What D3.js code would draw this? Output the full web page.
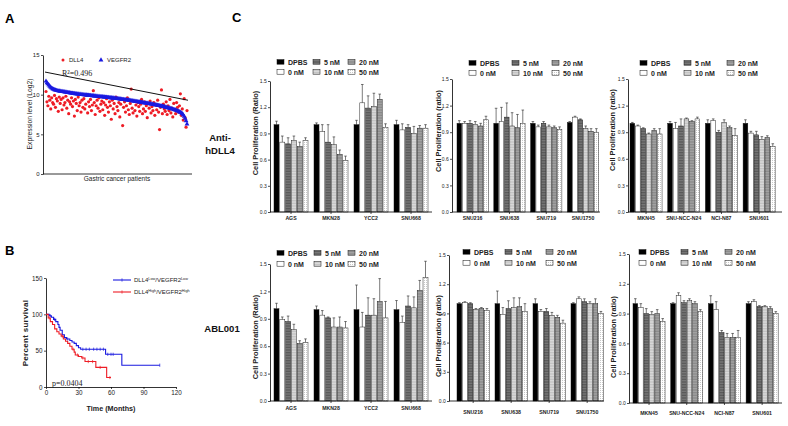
<!DOCTYPE html>
<html><head><meta charset="utf-8">
<script src="https://cdn.jsdelivr.net/npm/d3@7"></script>
<style>body{margin:0;background:#fff}svg{display:block;font-family:"Liberation Sans",Arial,sans-serif}</style>
</head><body><svg id="c" width="788" height="426"></svg>
<script>
// ---------------- DATA ----------------
// Panel A: expression level (Log2) per gastric cancer patient (sorted by VEGFR2)
const dll4Expr = [10.4,9.1,8.6,9.8,9.3,8.2,9.6,9.0,8.8,9.9,
8.4,9.5,9.2,7.9,9.7,8.9,9.4,8.1,9.6,8.7,
9.0,9.8,8.3,9.3,7.6,9.1,8.8,9.6,8.5,9.2,
7.3,9.4,8.9,8.0,9.7,8.6,9.0,7.8,9.3,8.4,
9.5,8.2,8.8,9.9,7.7,9.1,8.5,9.4,8.0,8.7,
10.5,9.0,7.5,8.6,9.3,8.3,9.6,7.9,8.8,9.2,
8.1,9.0,7.4,8.7,9.5,8.4,7.8,9.1,8.6,6.9,
9.3,8.2,8.9,7.6,9.7,8.5,8.0,9.0,7.2,8.8,
9.4,6.1,8.4,9.1,7.8,8.6,9.6,8.1,7.5,8.9,
10.7,8.3,7.7,9.2,8.0,8.7,7.3,9.0,8.5,7.9,
8.8,9.4,7.6,8.2,9.1,7.9,8.6,7.1,8.9,8.3,
9.2,7.7,8.5,8.0,9.0,7.4,8.7,8.1,9.3,7.8,
5.6,8.4,10.6,7.6,8.8,8.2,7.9,9.1,7.5,8.6,
8.0,9.4,7.7,8.3,7.2,8.9,8.1,7.6,9.0,8.4,
7.8,8.6,10.1,7.4,8.2,6.8,9.5,7.1,5.9,8.0];
const vegfr2Expr = [11.7,11.5,11.35,11.2,11.05,10.92,10.82,10.74,10.68,10.62,
10.57,10.53,10.5,10.47,10.45,10.43,10.41,10.39,10.37,10.35,
10.33,10.31,10.29,10.27,10.25,10.23,10.21,10.19,10.17,10.15,
10.13,10.11,10.1,10.08,10.07,10.05,10.04,10.02,10.01,10.0,
9.98,9.97,9.95,9.94,9.93,9.91,9.9,9.89,9.87,9.86,
9.85,9.83,9.82,9.81,9.8,9.78,9.77,9.76,9.74,9.73,
9.72,9.7,9.69,9.68,9.66,9.65,9.64,9.62,9.61,9.6,
9.58,9.57,9.55,9.54,9.52,9.5,9.49,9.47,9.45,9.44,
9.42,9.4,9.39,9.37,9.35,9.33,9.32,9.3,9.28,9.26,
9.24,9.22,9.2,9.18,9.16,9.14,9.12,9.1,9.08,9.06,
9.04,9.02,9.0,8.98,8.96,8.94,8.92,8.9,8.88,8.86,
8.84,8.82,8.8,8.78,8.76,8.73,8.71,8.68,8.66,8.63,
8.61,8.58,8.56,8.53,8.5,8.47,8.44,8.41,8.38,8.35,
8.32,8.28,8.25,8.21,8.17,8.13,8.09,8.05,8.0,7.95,
7.9,7.84,7.78,7.7,7.6,7.45,7.25,7.0,6.7,6.3];
const trendLine = [12.85, 9.3];   // fitted line value at first and last patient
const aYTicks = [0,5,10,15];

// Panel B: Kaplan-Meier
const blueT = [0,3,5,7,9,11,12,13,15,17,19,22,24,26,28,30,32,55,70,105];
const blueS = [100,98,96,93,90,86,82,78,72,68,66,64,62,60,57,54,52,45,30,30];
const blueCensor = [4,8,20,34,37,40,44,47,50,53,57,60,62,105];
const redT = [0,2,4,6,8,10,12,14,16,18,20,22,24,26,27,30,33,36,46,56,60];
const redS = [100,95,90,86,80,76,73,70,66,63,60,56,52,48,44,42,40,35,27,13,13];
const redCensor = [3,15,25,29,34,39,43,50,59];
const bXTicks = [0,30,60,90,120];
const bYTicks = [0,50,100,150];

// Panel C
const conc = ["DPBS","0 nM","5 nM","10 nM","20 nM","50 nM"];
const cYTicks = [0,0.3,0.6,0.9,1.2,1.5];
const t1Groups = ["AGS","MKN28","YCC2","SNU668"];
const t1Vals = [[1.00,0.80,0.78,0.82,0.75,0.82],[1.00,0.92,0.80,0.77,0.66,0.59],[1.00,1.25,1.19,1.21,1.29,0.97],[1.00,0.94,0.97,0.90,0.96,0.96]];
const t1Errs = [[0.04,0.07,0.07,0.05,0.05,0.03],[0.02,0.08,0.20,0.09,0.05,0.05],[0.05,0.21,0.14,0.15,0.06,0.04],[0.05,0.07,0.03,0.08,0.03,0.04]];
const t2Groups = ["SNU216","SNU638","SNU719","SNU1750"];
const t2Vals = [[1.00,1.00,1.00,0.99,0.97,1.04],[1.00,1.02,1.07,0.97,0.95,1.00],[1.00,0.96,1.00,0.96,0.95,0.93],[1.01,1.07,1.04,0.94,0.91,0.90]];
const t2Errs = [[0.03,0.02,0.03,0.03,0.03,0.04],[0.17,0.16,0.16,0.15,0.15,0.15],[0.02,0.02,0.02,0.02,0.02,0.03],[0.01,0.01,0.01,0.03,0.03,0.04]];
const t3Groups = ["MKN45","SNU-NCC-N24","NCI-N87","SNU601"];
const t3Vals = [[1.00,0.97,0.94,0.88,0.92,0.88],[1.00,0.94,0.97,1.05,1.02,1.05],[1.00,1.03,0.90,1.01,0.95,0.86],[1.00,0.89,0.87,0.82,0.84,0.74]];
const t3Errs = [[0.01,0.01,0.01,0.01,0.02,0.06],[0.02,0.07,0.08,0.01,0.01,0.02],[0.04,0.02,0.02,0.03,0.02,0.08],[0.04,0.02,0.04,0.03,0.02,0.03]];
const b1Vals = [[1.01,0.89,0.87,0.78,0.63,0.64],[1.00,0.94,0.91,0.81,0.81,0.80],[1.00,0.81,0.94,0.94,1.09,0.91],[1.00,0.86,1.04,1.02,1.21,1.35]];
const b1Errs = [[0.06,0.03,0.06,0.06,0.03,0.04],[0.04,0.05,0.01,0.10,0.11,0.07],[0.27,0.16,0.19,0.18,0.25,0.18],[0.10,0.07,0.11,0.12,0.11,0.18]];
const b2Vals = [[1.00,1.01,1.00,0.94,0.95,0.93],[1.00,0.89,0.95,0.96,0.97,0.92],[1.00,0.92,0.92,0.88,0.86,0.80],[1.00,1.05,1.02,1.00,1.00,0.90]];
const b2Errs = [[0.01,0.01,0.01,0.01,0.01,0.02],[0.13,0.07,0.08,0.10,0.09,0.08],[0.05,0.02,0.03,0.03,0.02,0.03],[0.01,0.02,0.03,0.02,0.05,0.02]];
const b3Vals = [[1.00,0.96,0.90,0.89,0.90,0.82],[1.00,1.08,1.01,1.03,1.00,0.92],[1.00,0.94,0.71,0.66,0.66,0.66],[1.00,1.02,0.97,0.97,0.95,0.90]];
const b3Errs = [[0.05,0.04,0.05,0.03,0.04,0.03],[0.01,0.03,0.02,0.02,0.02,0.02],[0.08,0.08,0.02,0.04,0.04,0.07],[0.02,0.02,0.01,0.01,0.02,0.02]];

// ---------------- DRAW ----------------
const svg = d3.select("#c");
const defs = svg.append("defs");
function stripe(id, base, line, pitch){
  const p = defs.append("pattern").attr("id",id).attr("patternUnits","userSpaceOnUse").attr("width",4).attr("height",pitch);
  p.append("rect").attr("width",4).attr("height",pitch).attr("fill",base);
  p.append("rect").attr("width",4).attr("height",0.6).attr("fill",line);
}
stripe("p5","#7a7a7a","#4a4a4a",1.6);
stripe("p10","#dcdcdc","#b8b8b8",1.6);
stripe("p20","#a6a6a6","#7c7c7c",1.6);
{
  const p = defs.append("pattern").attr("id","p50").attr("patternUnits","userSpaceOnUse").attr("width",2).attr("height",2);
  p.append("rect").attr("width",2).attr("height",2).attr("fill","#fff");
  p.append("rect").attr("width",0.8).attr("height",0.8).attr("fill","#aaa");
}
const fills = ["#000","#fff","url(#p5)","url(#p10)","url(#p20)","url(#p50)"];

function letter(t,x,y){ svg.append("text").attr("x",x).attr("y",y).attr("font-size",13).attr("font-weight","bold").text(t); }
letter("A",5,23); letter("B",5,255); letter("C",232,22);

function styleAxis(g, fs){
  g.selectAll("path.domain").attr("stroke","#000").attr("stroke-width",0.8);
  g.selectAll(".tick line").attr("stroke","#000").attr("stroke-width",0.7);
  g.selectAll(".tick text").attr("font-size",fs).attr("fill","#222").attr("font-family","Liberation Sans, Arial");
}

// ----- Panel A -----
{
  const xA = d3.scaleLinear().domain([0, dll4Expr.length-1]).range([46,187]);
  const yA = d3.scaleLinear().domain([0,15]).range([174,55]);
  const gy = svg.append("g").attr("transform","translate(43,0)")
    .call(d3.axisLeft(yA).tickValues(aYTicks).tickSize(2).tickPadding(1.5).tickSizeOuter(0));
  styleAxis(gy,6);
  svg.append("line").attr("x1",43).attr("x2",192).attr("y1",yA(0)).attr("y2",yA(0)).attr("stroke","#000").attr("stroke-width",0.8);
  svg.append("g").selectAll("circle").data(dll4Expr).join("circle")
    .attr("cx",(d,i)=>xA(i)).attr("cy",d=>yA(d)).attr("r",1.6).attr("fill","#ee1c25");
  const tri = d3.symbol().type(d3.symbolTriangle).size(10);
  svg.append("g").selectAll("path").data(vegfr2Expr).join("path")
    .attr("transform",(d,i)=>`translate(${xA(i)},${yA(d)})`).attr("d",tri).attr("fill","#1a1ae0");
  svg.append("line").attr("x1",xA(0)-1).attr("x2",xA(dll4Expr.length-1)+1)
    .attr("y1",yA(trendLine[0])).attr("y2",yA(trendLine[1])).attr("stroke","#111").attr("stroke-width",1);
  svg.append("circle").attr("cx",63).attr("cy",60).attr("r",1.5).attr("fill","#ee1c25");
  svg.append("text").attr("x",69).attr("y",62.3).attr("font-size",6).attr("fill","#222").text("DLL4");
  svg.append("path").attr("transform","translate(101,60)").attr("d",tri).attr("fill","#1a1ae0");
  svg.append("text").attr("x",107).attr("y",62.3).attr("font-size",6).attr("fill","#222").text("VEGFR2");
  svg.append("text").attr("x",62).attr("y",76).attr("font-size",8).attr("font-family","Liberation Serif, Times New Roman, serif").attr("fill","#222").text("R²=0.496");
  svg.append("text").attr("transform","translate(32,114) rotate(-90)").attr("text-anchor","middle").attr("font-size",6.8).attr("fill","#222").text("Expression level (Log2)");
  svg.append("text").attr("x",117).attr("y",181).attr("text-anchor","middle").attr("font-size",6.5).attr("fill","#222").text("Gastric cancer patients");
}

// ----- Panel B -----
{
  const xB = d3.scaleLinear().domain([0,120]).range([46,176]);
  const yB = d3.scaleLinear().domain([0,150]).range([387,278]);
  const gy = svg.append("g").attr("transform","translate(46,0)")
    .call(d3.axisLeft(yB).tickValues(bYTicks).tickSize(2).tickPadding(1.5).tickSizeOuter(0));
  styleAxis(gy,6.3);
  const gx = svg.append("g").attr("transform","translate(0,387)")
    .call(d3.axisBottom(xB).tickValues(bXTicks).tickSize(2).tickPadding(1.5).tickSizeOuter(0));
  styleAxis(gx,6.3);
  const line = d3.line().curve(d3.curveStepAfter).x(d=>xB(d[0])).y(d=>yB(d[1]));
  const stepAt = (T,S,t)=>{ let s=S[0]; for(let i=0;i<T.length;i++){ if(T[i]<=t) s=S[i]; } return s; };
  function km(T,S,C,col){
    svg.append("path").datum(T.map((t,i)=>[t,S[i]])).attr("d",line).attr("fill","none").attr("stroke",col).attr("stroke-width",1.1);
    svg.append("g").selectAll("line").data(C).join("line")
      .attr("x1",d=>xB(d)).attr("x2",d=>xB(d))
      .attr("y1",d=>yB(stepAt(T,S,d))-1.6).attr("y2",d=>yB(stepAt(T,S,d))+1.6)
      .attr("stroke",col).attr("stroke-width",0.7);
  }
  km(blueT,blueS,blueCensor,"#1a1ae0");
  km(redT,redS,redCensor,"#ee1c25");
  svg.append("text").attr("transform","translate(28,333) rotate(-90)").attr("text-anchor","middle").attr("font-size",8).attr("font-weight","bold").attr("letter-spacing",0.3).attr("fill","#222").text("Percent survival");
  svg.append("text").attr("x",111).attr("y",411).attr("text-anchor","middle").attr("font-size",7.2).attr("font-weight","bold").attr("fill","#222").text("Time (Months)");
  svg.append("text").attr("x",52).attr("y",386).attr("font-size",8).attr("font-family","Liberation Serif, Times New Roman, serif").attr("fill","#222").text("p=0.0404");
  function leg(y,col,sup){
    svg.append("line").attr("x1",113).attr("x2",131).attr("y1",y).attr("y2",y).attr("stroke",col).attr("stroke-width",1.1);
    svg.append("line").attr("x1",122).attr("x2",122).attr("y1",y-1.6).attr("y2",y+1.6).attr("stroke",col).attr("stroke-width",0.7);
    const t = svg.append("text").attr("x",134).attr("y",y+2.3).attr("font-size",6).attr("fill","#222");
    t.append("tspan").text("DLL4");
    t.append("tspan").attr("dy",-2.2).attr("font-size",3.8).text(sup);
    t.append("tspan").attr("dy",2.2).text("/VEGFR2");
    t.append("tspan").attr("dy",-2.2).attr("font-size",3.8).text(sup);
  }
  leg(280,"#1a1ae0","Low");
  leg(292,"#ee1c25","High");
}

// ----- Panel C -----
function rowLabel(lines,x,y){
  lines.forEach((l,i)=>svg.append("text").attr("x",x).attr("y",y+i*12.5).attr("text-anchor","middle")
    .attr("font-size",9.5).attr("font-weight","bold").attr("fill","#111").text(l));
}
rowLabel(["Anti-","hDLL4"],220,141);
rowLabel(["ABL001"],222,332);

function drawBars(cfg){
  const g = svg.append("g");
  const y = d3.scaleLinear().domain([0,1.5]).range([cfg.y0,cfg.y15]);
  const xg = d3.scaleBand().domain(cfg.groups).range([cfg.bs, cfg.bs+cfg.step*(cfg.groups.length-0.15)]).paddingInner(0.15).paddingOuter(0);
  const xs = d3.scaleBand().domain(conc).range([0,xg.bandwidth()]).paddingInner(0.14);
  const recs = [];
  cfg.groups.forEach((grp,i)=>conc.forEach((c,j)=>recs.push({grp,c,j,v:cfg.vals[i][j],e:cfg.errs[i][j]})));
  const cx = d=>xg(d.grp)+xs(d.c)+xs.bandwidth()/2;
  g.append("g").selectAll("line").data(recs).join("line")
    .attr("x1",cx).attr("x2",cx).attr("y1",d=>y(d.v)).attr("y2",d=>y(d.v+d.e)).attr("stroke","#222").attr("stroke-width",0.6);
  g.append("g").selectAll("line").data(recs).join("line")
    .attr("x1",d=>cx(d)-1.3).attr("x2",d=>cx(d)+1.3).attr("y1",d=>y(d.v+d.e)).attr("y2",d=>y(d.v+d.e)).attr("stroke","#222").attr("stroke-width",0.6);
  g.append("g").selectAll("rect").data(recs).join("rect")
    .attr("x",d=>xg(d.grp)+xs(d.c)).attr("y",d=>y(d.v)).attr("width",xs.bandwidth()).attr("height",d=>cfg.y0-y(d.v))
    .attr("fill",d=>fills[d.j]).attr("stroke","#111").attr("stroke-width",0.45);
  const gy = g.append("g").attr("transform",`translate(${cfg.x0},0)`)
    .call(d3.axisLeft(y).tickValues(cYTicks).tickFormat(d3.format(".1f")).tickSize(2).tickPadding(1.2).tickSizeOuter(0));
  styleAxis(gy,5);
  g.append("line").attr("x1",cfg.x0).attr("x2",cfg.x1).attr("y1",cfg.y0).attr("y2",cfg.y0).attr("stroke","#000").attr("stroke-width",0.8);
  g.append("g").selectAll("line").data(cfg.groups).join("line")
    .attr("x1",d=>xg(d)+xg.bandwidth()/2).attr("x2",d=>xg(d)+xg.bandwidth()/2)
    .attr("y1",cfg.y0).attr("y2",cfg.y0+2).attr("stroke","#000").attr("stroke-width",0.7);
  g.append("g").selectAll("text").data(cfg.groups).join("text")
    .attr("x",d=>xg(d)+xg.bandwidth()/2).attr("y",cfg.xlabY).attr("text-anchor","middle")
    .attr("font-size",5.2).attr("font-weight","bold").attr("fill","#222").text(d=>d);
  g.append("text").attr("transform",`translate(${cfg.ylabX},${cfg.ylabY}) rotate(-90)`).attr("text-anchor","middle")
    .attr("font-size",7.4).attr("font-weight","bold").attr("fill","#222").text(cfg.ylab);
  // legend
  conc.forEach((c,j)=>{
    const col = Math.floor(j/2), row = j%2;
    const lx = cfg.lgX[col], ly = cfg.lgY[row];
    g.append("rect").attr("x",lx).attr("y",ly-2.4).attr("width",7).attr("height",4.6)
      .attr("fill",fills[j]).attr("stroke","#111").attr("stroke-width",0.5);
    g.append("text").attr("x",lx+11).attr("y",ly+2.5).attr("font-size",7).attr("font-weight","bold").attr("fill","#222").text(c);
  });
}

drawBars({groups:t1Groups,vals:t1Vals,errs:t1Errs,x0:270,x1:432,y0:212,y15:81,bs:274,step:40,
  ylab:"Cell Proliferation (Ratio)",ylabX:258,ylabY:133,lgX:[277,313,348],lgY:[62,72],xlabY:220});
drawBars({groups:t2Groups,vals:t2Vals,errs:t2Errs,x0:452,x1:600,y0:212,y15:79,bs:457,step:36.8,
  ylab:"Cell Proliferation (ratio)",ylabX:441,ylabY:131,lgX:[469,512,552],lgY:[63,73],xlabY:220});
drawBars({groups:t3Groups,vals:t3Vals,errs:t3Errs,x0:628,x1:782,y0:212,y15:79,bs:630,step:37.7,
  ylab:"Cell Proliferation (ratio)",ylabX:615,ylabY:130,lgX:[640,684,727],lgY:[63,73],xlabY:220});
drawBars({groups:t1Groups,vals:b1Vals,errs:b1Errs,x0:270,x1:432,y0:401,y15:264,bs:274,step:40,
  ylab:"Cell Proliferation (Ratio)",ylabX:258,ylabY:337,lgX:[277,314,348],lgY:[253,264],xlabY:410});
drawBars({groups:t2Groups,vals:b2Vals,errs:b2Errs,x0:449,x1:604,y0:401,y15:255,bs:457,step:38,
  ylab:"Cell Proliferation (ratio)",ylabX:441,ylabY:336,lgX:[463,505,546],lgY:[252,263],xlabY:414});
drawBars({groups:t3Groups,vals:b3Vals,errs:b3Errs,x0:629,x1:782,y0:403,y15:254,bs:633,step:37.7,
  ylab:"Cell Proliferation (ratio)",ylabX:616,ylabY:337,lgX:[639,681,725],lgY:[252,263],xlabY:415});
</script></body></html>
